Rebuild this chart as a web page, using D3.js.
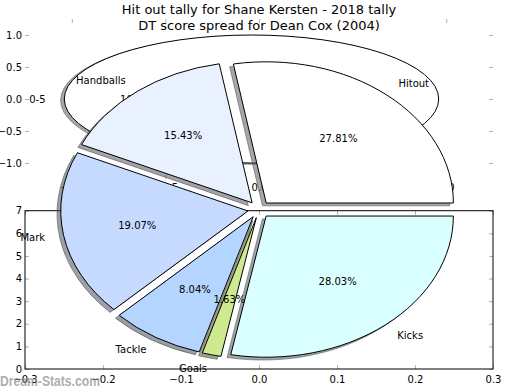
<!DOCTYPE html>
<html>
<head>
<meta charset="utf-8">
<script src="https://cdn.jsdelivr.net/npm/d3@7"></script>
<style>
  body { margin: 0; background: #fff; }
  svg { display: block; font-family: "DejaVu Sans", sans-serif; }
</style>
</head>
<body>
<div id="chart"></div>
<script>
const titleLines = ["Hit out tally for Shane Kersten - 2018 tally", "DT score spread for Dean Cox (2004)"];

// front pie: DT score spread
const statLabels = ["Hitout", "Handballs", "Mark", "Tackle", "Goals", "Kicks"];
const statShares = [27.81, 15.43, 19.07, 8.04, 1.63, 28.03];
const statColors = ["#ffffff", "#e9f1ff", "#c6d9ff", "#b4d5ff", "#cfe98f", "#d9ffff"];

// back pie: hit out tally (a single bucket)
const hitoutLabels = ["0-5"];
const hitoutCounts = [1];
const hitoutColors = ["#ffffff"];

// axis ticks
const backTicks = [-1, -0.5, 0, 0.5, 1];
const lowerXTicks = [-0.3, -0.2, -0.1, 0, 0.1, 0.2, 0.3];
const lowerYTicks = [0, 1, 2, 3, 4, 5, 6, 7];

const width = 520, height = 390;

const svg = d3.select("#chart").append("svg")
    .attr("width", width)
    .attr("height", height);

// three overlapping axes share the same horizontal extent
const left = 25, right = 493;

const backX = d3.scaleLinear().domain([-1.25, 1.25]).range([left, right]);
const backY = d3.scaleLinear().domain([-1.25, 1.25]).range([179, 19]);

const lowX = d3.scaleLinear().domain([-0.3, 0.3]).range([left, right]);
const lowY = d3.scaleLinear().domain([0, 7]).range([369, 210.7]);

const pieX = d3.scaleLinear().domain([-1.25, 1.25]).range([left, right]);
const pieY = d3.scaleLinear().domain([-1.25, 1.25]).range([386, 33]);

// elliptical wedge, angles counterclockwise from east
function wedgePath(sx, sy, cx, cy, r, t1, t2) {
    const rx = Math.abs(sx(r) - sx(0)), ry = Math.abs(sy(r) - sy(0));
    const px = t => sx(cx + r * Math.cos(t)), py = t => sy(cy + r * Math.sin(t));
    if (t2 - t1 >= 2 * Math.PI - 1e-9) {
        const tm = t1 + Math.PI;
        return `M${px(t1)},${py(t1)}A${rx},${ry} 0 0 0 ${px(tm)},${py(tm)}A${rx},${ry} 0 0 0 ${px(t1)},${py(t1)}Z`;
    }
    const large = (t2 - t1) > Math.PI ? 1 : 0;
    return `M${sx(cx)},${sy(cy)}L${px(t1)},${py(t1)}A${rx},${ry} 0 ${large} 0 ${px(t2)},${py(t2)}Z`;
}

function shade(c) {
    const k = d3.rgb(c);
    return d3.rgb(k.r * 0.3, k.g * 0.3, k.b * 0.3).toString();
}

function drawPie(g, sx, sy, values, labels, colors, explode, fmt) {
    const arcs = d3.pie().sort(null).startAngle(0).endAngle(2 * Math.PI)(values);
    const total = d3.sum(values);
    const slices = arcs.map((a, i) => {
        const mid = (a.startAngle + a.endAngle) / 2;
        return { a, i, mid, cx: explode * Math.cos(mid), cy: explode * Math.sin(mid) };
    });

    // shadows sit below every wedge
    g.selectAll(".shadow")
        .data(slices)
        .join("path")
        .attr("class", "shadow")
        .attr("d", d => wedgePath(sx, sy, d.cx - 0.02, d.cy - 0.02, 1, d.a.startAngle, d.a.endAngle))
        .attr("fill", d => shade(colors[d.i]))
        .attr("fill-opacity", 0.5)
        .attr("stroke", d => shade(colors[d.i]))
        .attr("stroke-opacity", 0.5);

    g.selectAll(".wedge")
        .data(slices)
        .join("path")
        .attr("class", "wedge")
        .attr("d", d => wedgePath(sx, sy, d.cx, d.cy, 1, d.a.startAngle, d.a.endAngle))
        .attr("fill", d => colors[d.i])
        .attr("stroke", "#000")
        .attr("stroke-width", 1);

    g.selectAll(".plabel")
        .data(slices)
        .join("text")
        .attr("class", "plabel")
        .attr("x", d => sx(d.cx + 1.1 * Math.cos(d.mid)))
        .attr("y", d => sy(d.cy + 1.1 * Math.sin(d.mid)))
        .attr("text-anchor", d => (d.cx + 1.1 * Math.cos(d.mid)) > 0 ? "start" : "end")
        .attr("dominant-baseline", "central")
        .attr("font-size", 10)
        .text(d => labels[d.i]);

    g.selectAll(".pct")
        .data(slices)
        .join("text")
        .attr("class", "pct")
        .attr("x", d => sx(d.cx + 0.6 * Math.cos(d.mid)))
        .attr("y", d => sy(d.cy + 0.6 * Math.sin(d.mid)))
        .attr("text-anchor", "middle")
        .attr("dominant-baseline", "central")
        .attr("font-size", 10)
        .text(d => fmt(100 * d.a.value / total) + "%");
}

function styleAxis(g, labels) {
    g.select(".domain").remove();
    g.selectAll(".tick line").attr("stroke", "#b0b0b0");
    g.selectAll(".tick text")
        .attr("fill", labels ? "#000" : "none")
        .attr("font-size", 10)
        .attr("font-family", "DejaVu Sans, sans-serif");
}

// ---- back axes (hit out tally) ----
const back = svg.append("g");
const f1 = d3.format(".1f");

back.append("g")
    .attr("transform", `translate(${left},0)`)
    .call(d3.axisLeft(backY).tickValues(backTicks).tickSizeInner(-4).tickSizeOuter(0).tickPadding(3).tickFormat(f1))
    .call(g => styleAxis(g, true));
back.append("g")
    .attr("transform", `translate(${right},0)`)
    .call(d3.axisRight(backY).tickValues(backTicks).tickSizeInner(-4).tickSizeOuter(0).tickFormat(""))
    .call(g => styleAxis(g, false));
back.append("g")
    .attr("transform", `translate(0,${backY.range()[1]})`)
    .call(d3.axisTop(backX).tickValues(backTicks).tickSizeInner(-4).tickSizeOuter(0).tickFormat(""))
    .call(g => styleAxis(g, false));
back.append("g")
    .attr("transform", `translate(0,${backY.range()[0]})`)
    .call(d3.axisBottom(backX).tickValues(backTicks).tickSizeInner(-4).tickSizeOuter(0).tickPadding(5).tickFormat(f1))
    .call(g => styleAxis(g, true));

drawPie(back.append("g"), backX, backY, hitoutCounts, hitoutLabels, hitoutColors, 0.04, d3.format(".1f"));

// ---- lower axes ----
const lower = svg.append("g");
lower.append("g")
    .attr("transform", `translate(${left},0)`)
    .call(d3.axisLeft(lowY).tickValues(lowerYTicks).tickSizeInner(-4).tickSizeOuter(0).tickPadding(3).tickFormat(d3.format("d")))
    .call(g => styleAxis(g, true));
lower.append("g")
    .attr("transform", `translate(${right},0)`)
    .call(d3.axisRight(lowY).tickValues(lowerYTicks).tickSizeInner(-4).tickSizeOuter(0).tickFormat(""))
    .call(g => styleAxis(g, false));
lower.append("g")
    .attr("transform", `translate(0,${lowY.range()[1]})`)
    .call(d3.axisTop(lowX).tickValues(lowerXTicks).tickSizeInner(-4).tickSizeOuter(0).tickFormat(""))
    .call(g => styleAxis(g, false));
lower.append("g")
    .attr("transform", `translate(0,${lowY.range()[0]})`)
    .call(d3.axisBottom(lowX).tickValues(lowerXTicks).tickSizeInner(-4).tickSizeOuter(0).tickPadding(7).tickFormat(f1))
    .call(g => styleAxis(g, true));
lower.append("rect")
    .attr("x", left)
    .attr("y", lowY.range()[1])
    .attr("width", right - left)
    .attr("height", lowY.range()[0] - lowY.range()[1])
    .attr("fill", "none")
    .attr("stroke", "#000");

// ---- front pie ----
drawPie(svg.append("g"), pieX, pieY, statShares, statLabels, statColors, 0.06, d3.format(".2f"));

// ---- titles ----
svg.selectAll(".title")
    .data(titleLines)
    .join("text")
    .attr("class", "title")
    .attr("x", (left + right) / 2)
    .attr("y", (d, i) => 14 + i * 16)
    .attr("text-anchor", "middle")
    .attr("font-size", 13)
    .text(d => d);

// watermark
svg.append("text")
    .attr("x", 0)
    .attr("y", 386)
    .attr("font-family", "Liberation Sans, Arial, sans-serif")
    .attr("font-weight", "bold")
    .attr("font-size", 14)
    .attr("textLength", 100)
    .attr("lengthAdjust", "spacingAndGlyphs")
    .attr("fill", "#888")
    .attr("fill-opacity", 0.7)
    .text("Dream-Stats.com");
</script>
</body>
</html>
